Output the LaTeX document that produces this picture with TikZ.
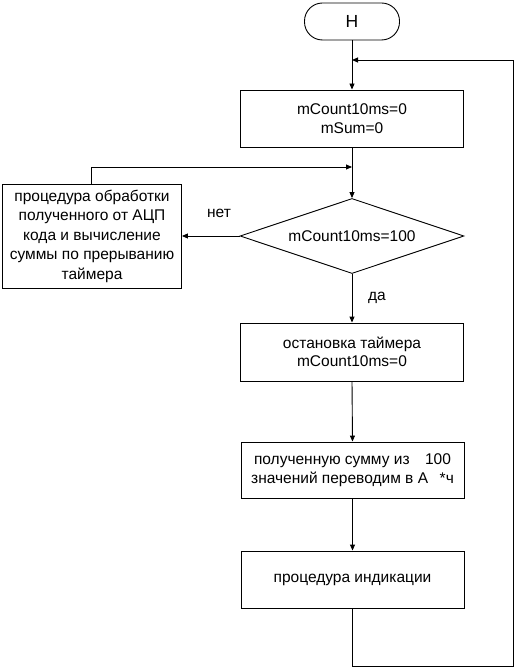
\documentclass[tikz,border=0pt]{standalone}
\usepackage{fontspec}
\setmainfont{Liberation Sans}
\usetikzlibrary{arrows.meta,shapes.geometric}
\begin{document}
\begin{tikzpicture}[x=1pt,y=-1pt,
  every node/.style={font=\fontsize{15.5}{18.5}\selectfont},
  blk/.style={draw,line width=0.9pt,minimum width=223pt,inner sep=0pt,align=center},
  cond/.style={draw,line width=0.9pt,diamond,aspect=2.99,minimum width=224pt,minimum height=75pt,inner sep=0pt},
  term/.style={draw,line width=0.9pt,rounded corners=18pt,minimum width=95pt,minimum height=37pt,inner sep=0pt,font=\fontsize{17.5}{20}\selectfont},
  lbl/.style={inner sep=0pt},
  ln/.style={line width=0.9pt},
  arr/.style={line width=0.9pt,-{Triangle[length=6pt,width=5pt]}}]
\useasboundingbox (0,0) rectangle (523,668);
\node[term] (t) at (352,21.5) {Н};
\node[blk,minimum height=57pt] (b1) at (352,118.5) {mCount10ms=0\\mSum=0};
\node[cond] (d) at (352,236) {mCount10ms=100};
\node[blk,minimum width=179pt,minimum height=104pt,font=\fontsize{15.5}{19.5}\selectfont] (l) at (92,236) {процедура обработки\\полученного от АЦП\\кода и вычисление\\суммы по прерыванию\\таймера};
\node[blk,minimum height=58pt] (b2) at (352,352) {остановка таймера\\mCount10ms=0};
\node[blk,minimum height=56pt] (b3) at (352.5,470) {полученную сумму из\hspace{1em}100\\значений переводим в А\hspace{0.75em}*ч};
\node[blk,minimum height=57pt] (b4) at (352.5,579.5) {процедура индикации};
\node[lbl] (no) at (219,213) {нет};
\node[lbl] (yes) at (377,298) {да};
\coordinate (j1) at (352,60);
\coordinate (j2) at (352,167);
\coordinate (c1) at (352,666);
\coordinate (c2) at (513,666);
\coordinate (c3) at (513,60);
\coordinate (c4) at (91,167);
\draw[arr] (t.south) -- (b1.north);
\draw[arr] (b4.south) |- (c2) -- (c3) -- (j1);
\draw[arr] (b1.south) -- (d.north);
\draw[arr] (l.north -| c4) -- (c4) -- (j2);
\draw[arr] (d.west) -- (l.east);
\draw[arr] (d.south) -- (b2.north);
\draw[arr] (b2.south) -- (b3.north);
\draw[arr] (b3.south) -- (b4.north);
\end{tikzpicture}
\end{document}
